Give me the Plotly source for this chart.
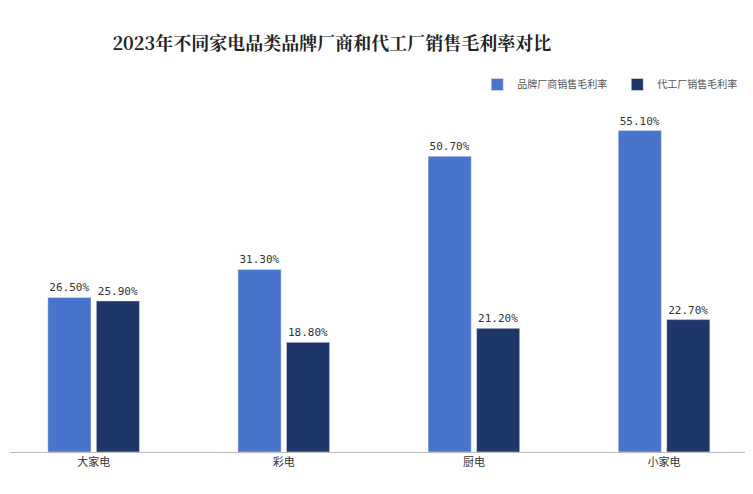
import plotly.graph_objects as go

categories = ["大家电", "彩电", "厨电", "小家电"]
brand = [26.5, 31.3, 50.7, 55.1]
oem = [25.9, 18.8, 21.2, 22.7]

fig = go.Figure()
for name, vals, color in [
    ("品牌厂商销售毛利率", brand, "#4874cb"),
    ("代工厂销售毛利率", oem, "#1f3768"),
]:
    fig.add_trace(
        go.Bar(
            x=categories,
            y=vals,
            name=name,
            marker={"color": color},
            text=[f"{v:.2f}%" for v in vals],
            textposition="outside",
            textfont={"size": 11, "color": "#333", "family": "DejaVu Sans Mono"},
            cliponaxis=False,
        )
    )

fig.update_layout(
    title={
        "text": "<b>2023年不同家电品类品牌厂商和代工厂销售毛利率对比</b>",
        "x": 0.43,
        "xanchor": "center",
        "y": 0.94,
        "font": {"size": 18, "color": "#222", "family": "Noto Serif CJK SC, Noto Sans CJK SC"},
    },
    width=753,
    height=494,
    margin={"l": 2, "r": 0, "t": 94, "b": 50},
    barmode="group",
    bargap=0.49,
    bargroupgap=0.11,
    plot_bgcolor="#ffffff",
    paper_bgcolor="#ffffff",
    showlegend=True,
    legend={
        "orientation": "h",
        "x": 0.995,
        "xanchor": "right",
        "y": 1.05,
        "yanchor": "middle",
        "font": {"size": 10, "color": "#555", "family": "Noto Sans CJK SC"},
        "itemwidth": 30,
        "entrywidth": 95,
        "entrywidthmode": "pixels",
    },
    xaxis={
        "range": [-0.44, 3.51],
        "showline": True,
        "linecolor": "#bbbbbb",
        "ticks": "",
        "tickfont": {"size": 11, "color": "#333", "family": "Noto Sans CJK SC"},
    },
    yaxis={"range": [0, 60], "visible": False, "showgrid": False},
)

fig.write_html("out.html")
